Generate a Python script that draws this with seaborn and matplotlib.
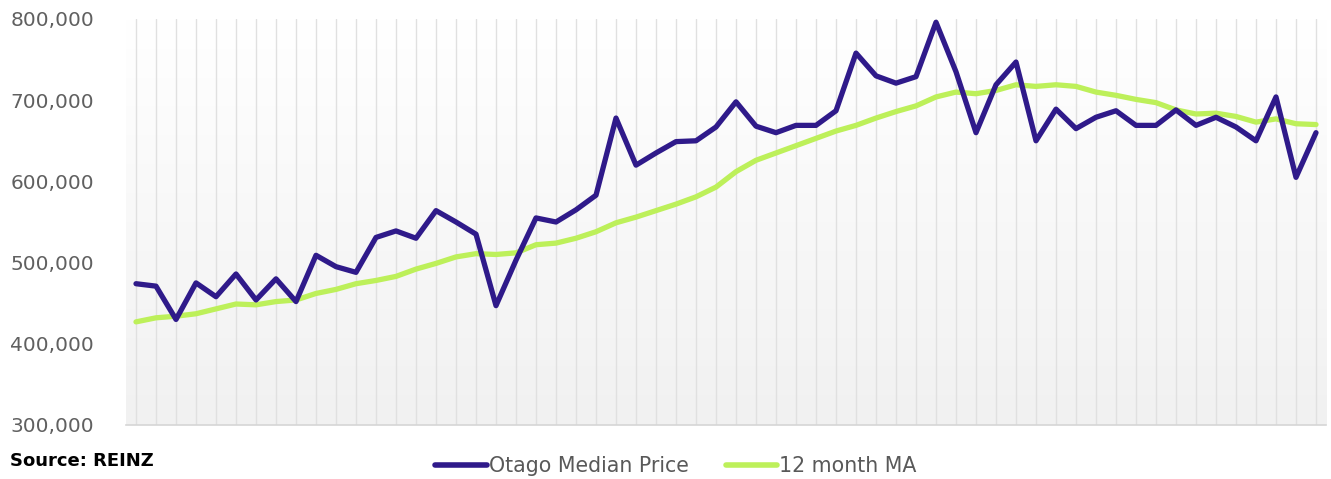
import numpy as np
import pandas as pd
import matplotlib
matplotlib.use("Agg")
import matplotlib.pyplot as plt
from matplotlib.lines import Line2D
from matplotlib.ticker import FuncFormatter
from matplotlib.colors import LinearSegmentedColormap
import seaborn as sns

# Monthly Otago median house price and its 12-month moving average
median_price = [
    474000, 471000, 430000, 475000, 458000, 486000, 454000, 480000, 452000, 509000,
    495000, 488000, 531000, 539000, 530000, 564000, 550000, 535000, 447000, 503000,
    555000, 550000, 565000, 583000, 678000, 620000, 635000, 649000, 650000, 667000,
    698000, 668000, 660000, 669000, 669000, 687000, 758000, 730000, 721000, 729000,
    796000, 735000, 660000, 719000, 747000, 650000, 689000, 665000, 679000, 687000,
    669000, 669000, 688000, 669000, 679000, 667000, 650000, 704000, 605000, 660000,
]
moving_avg = [
    427000, 432000, 434000, 437000, 443000, 449000, 448000, 452000, 454000, 462000,
    467000, 474000, 478000, 483000, 492000, 499000, 507000, 511000, 510000, 512000,
    522000, 524000, 530000, 538000, 549000, 556000, 564000, 572000, 581000, 593000,
    612000, 626000, 635000, 644000, 653000, 662000, 669000, 678000, 686000, 693000,
    704000, 710000, 708000, 712000, 719000, 717000, 719000, 717000, 710000, 706000,
    701000, 697000, 688000, 683000, 684000, 680000, 673000, 677000, 671000, 670000,
]
series_names = ["Otago Median Price", "12 month MA"]
y_ticks = [300000, 400000, 500000, 600000, 700000, 800000]

n = len(median_price)
months = np.arange(n)
df = pd.DataFrame({
    "month": np.concatenate([months, months]),
    "price": median_price + moving_avg,
    "series": [series_names[0]] * n + [series_names[1]] * n,
})

PURPLE = "#2f1a8a"
GREEN = "#bdf05a"

sns.set_style("white")
plt.rcParams["font.family"] = ["DejaVu Sans"]

fig = plt.figure(figsize=(13.31, 4.79), dpi=100)
ax = fig.add_axes([126 / 1331, 1 - 425 / 479, 1200 / 1331, (425 - 19) / 479])

# soft vertical gradient behind the plot
grad = np.linspace(0, 1, 256).reshape(-1, 1)
cmap = LinearSegmentedColormap.from_list("bg", ["#ffffff", "#f1f1f1"])
ax.imshow(grad, extent=[0, 1, 0, 1], transform=ax.transAxes, aspect="auto",
          cmap=cmap, zorder=0, interpolation="bilinear")

# green moving average first, purple median on top
sns.lineplot(data=df[df.series == series_names[1]], x="month", y="price",
             color=GREEN, linewidth=3.8, ax=ax, zorder=3, legend=False)
sns.lineplot(data=df[df.series == series_names[0]], x="month", y="price",
             color=PURPLE, linewidth=3.8, ax=ax, zorder=4, legend=False)
for ln in ax.lines:
    ln.set_solid_joinstyle("round")
    ln.set_solid_capstyle("round")

ax.set_xlim(-0.5, n - 0.5)
ax.set_ylim(y_ticks[0], y_ticks[-1])

# category gridlines at each month, tick marks between months
ax.set_xticks(np.arange(n + 1) - 0.5)
ax.set_xticks(months, minor=True)
ax.tick_params(axis="x", which="major", length=5, width=1, color="#d6d6d6",
               direction="out", labelbottom=False)
ax.tick_params(axis="x", which="minor", length=0, labelbottom=False)
ax.grid(axis="x", which="minor", color="#e0e0e0", linewidth=1.0, zorder=1)
ax.grid(axis="x", which="major", visible=False)
ax.grid(axis="y", visible=False)

ax.set_yticks(y_ticks)
ax.yaxis.set_major_formatter(FuncFormatter(lambda v, p: f"{int(v):,}"))
ax.tick_params(axis="y", length=0, pad=23, labelsize=14.5, labelcolor="#606060")

ax.set_xlabel("")
ax.set_ylabel("")
for side in ["top", "right", "left"]:
    ax.spines[side].set_visible(False)
ax.spines["bottom"].set_color("#d6d6d6")
ax.spines["bottom"].set_linewidth(1.2)

fig.text(10 / 1331, 1 - 461 / 479, "Source: REINZ", fontsize=13, fontweight="bold",
         color="#000000", va="center", ha="left")

handles = [Line2D([0], [0], color=PURPLE, linewidth=4, solid_capstyle="round"),
           Line2D([0], [0], color=GREEN, linewidth=4, solid_capstyle="round")]
fig.legend(handles, series_names, loc="center", bbox_to_anchor=(676 / 1331, 1 - 466 / 479),
           ncol=2, frameon=False, fontsize=14.8, labelcolor="#595959",
           handlelength=2.5, handletextpad=0.1, columnspacing=1.8,
           borderaxespad=0, borderpad=0)

fig.savefig("out.png", dpi=100, facecolor="white")
